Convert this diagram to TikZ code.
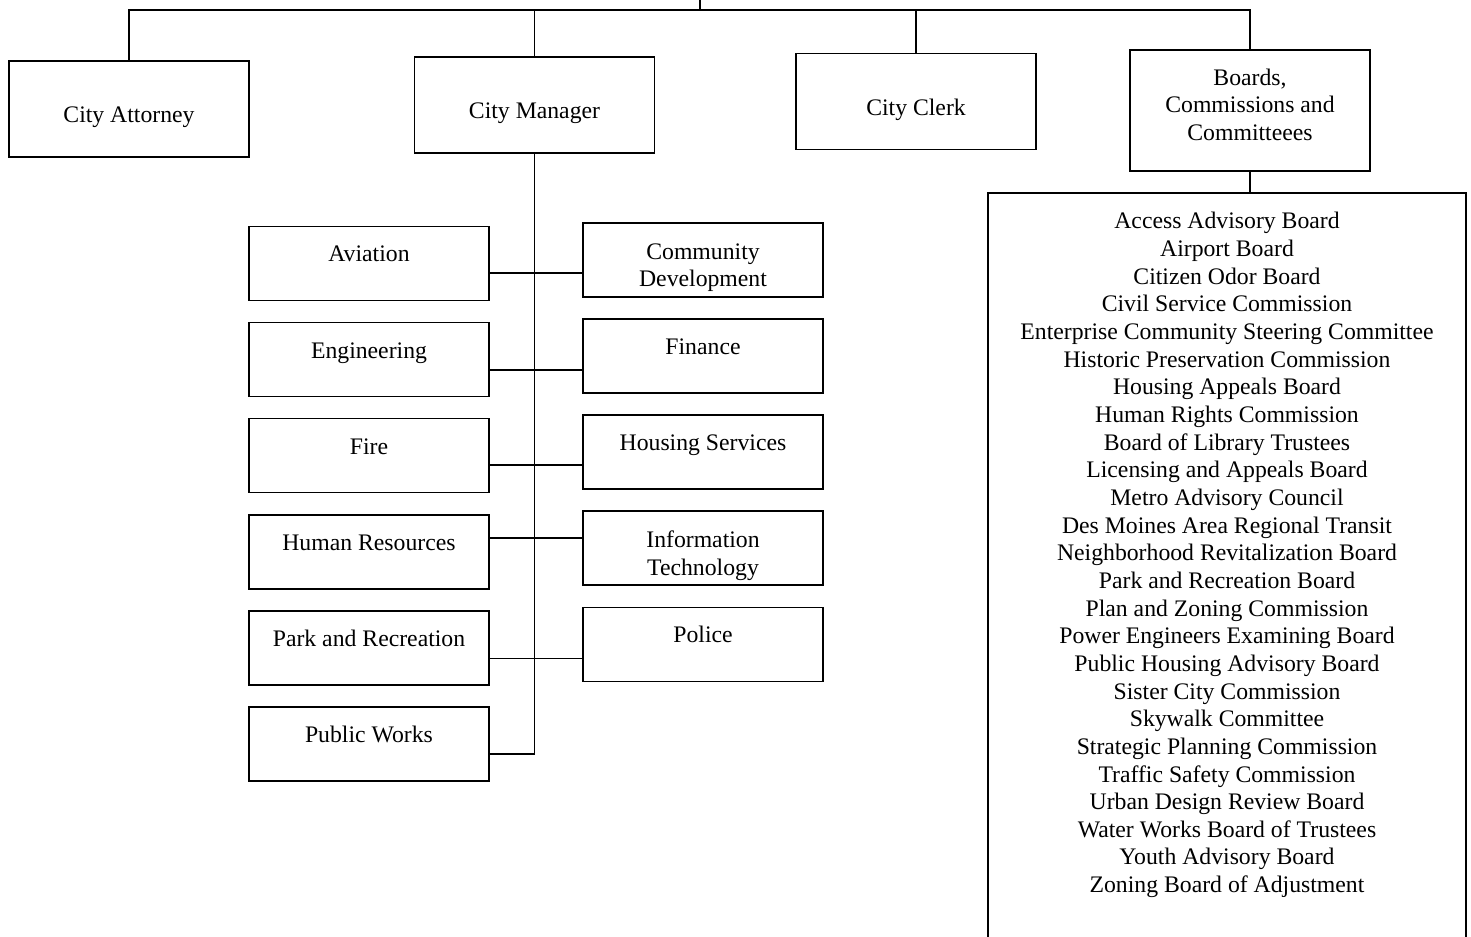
\documentclass[tikz,border=0pt]{standalone}
\usepackage{fontspec}
\setmainfont{Liberation Serif}
\usepackage{tikz}
\usetikzlibrary{positioning}
\tikzset{office/.style={draw,line width=0.9pt,minimum width=4.8cm,minimum height=1.92cm,
        align=center,inner sep=0pt,text height=0.65cm,text depth=0.1cm},
    dept/.style={draw,line width=0.9pt,minimum width=4.8cm,minimum height=1.48cm,
        align=center,inner sep=0pt},
    oneline/.style={text height=0.35cm,text depth=0.41cm},
    twoline/.style={text height=1.16cm,text depth=0.08cm},
    link/.style={draw,line width=0.9pt},
    boardlist/.style={align=center,inner sep=0pt},
    every node/.style={font=\fontsize{13.5}{15.74}\selectfont}}

\begin{document}
\begin{tikzpicture}
\useasboundingbox (0,0) rectangle (29.42,-18.74);

\node[office] (attorney) at (2.58,-2.18) {City Attorney};
\node[office] (manager) at (10.69,-2.10) {City Manager};
\node[office] (clerk) at (18.32,-2.03) {City Clerk};
\node[office,minimum height=2.42cm,text height=1.44cm,text depth=0.24cm] (boards) at (25.0,-2.21) {Boards,\\ Commissions and\\ Committeees};

\coordinate (bus) at (14.0,-0.2);
\coordinate (mayor) at (14.0,0);
\draw[link] (attorney.north) |- (bus) -| (boards.north);
\draw[link] (manager.north) -- (manager.north |- bus);
\draw[link] (clerk.north) -- (clerk.north |- bus);
\draw[link] (bus) -- (mayor);

\node[dept,oneline] (aviation) at (7.38,-5.27) {Aviation};
\node[dept,oneline] (engineering) [below=0.41cm of aviation] {Engineering};
\node[dept,oneline] (fire) [below=0.41cm of engineering] {Fire};
\node[dept,oneline] (humanres) [below=0.41cm of fire] {Human Resources};
\node[dept,oneline] (parkrec) [below=0.41cm of humanres] {Park and Recreation};
\node[dept,oneline] (works) [below=0.41cm of parkrec] {Public Works};

\node[dept,twoline] (commdev) at (14.06,-5.20) {Community\\ Development};
\node[dept,oneline] (finance) [below=0.41cm of commdev] {Finance};
\node[dept,oneline] (housing) [below=0.41cm of finance] {Housing Services};
\node[dept,twoline] (infotech) [below=0.41cm of housing] {Information\\ Technology};
\node[dept,oneline] (police) [below=0.41cm of infotech] {Police};

\draw[link] (manager.south) |- ([yshift=-0.2cm]works.east);
\draw[link] ([yshift=-0.19cm]aviation.east) -- ([yshift=-0.19cm]aviation.east -| commdev.west);
\draw[link] ([yshift=-0.21cm]engineering.east) -- ([yshift=-0.21cm]engineering.east -| finance.west);
\draw[link] ([yshift=-0.19cm]fire.east) -- ([yshift=-0.19cm]fire.east -| housing.west);
\draw[link] ([yshift=0.27cm]humanres.east) -- ([yshift=0.27cm]humanres.east -| infotech.west);
\draw[link] ([yshift=-0.21cm]parkrec.east) -- ([yshift=-0.21cm]parkrec.east -| police.west);

\coordinate (listnw) at (19.76,-3.86);
\coordinate (listse) at (29.32,-18.74);
\draw[link] (listnw |- listse) -- (listnw) -- (listse |- listnw) -- (listse);
\draw[link] (boards.south) -- (boards.south |- listnw);

\node[boardlist,anchor=north] (boardnames) at (24.54,-4.24) {Access Advisory Board\\
    Airport Board\\
    Citizen Odor Board\\
    Civil Service Commission\\
    Enterprise Community Steering Committee\\
    Historic Preservation Commission\\
    Housing Appeals Board\\
    Human Rights Commission\\
    Board of Library Trustees\\
    Licensing and Appeals Board\\
    Metro Advisory Council\\
    Des Moines Area Regional Transit\\
    Neighborhood Revitalization Board\\
    Park and Recreation Board\\
    Plan and Zoning Commission\\
    Power Engineers Examining Board\\
    Public Housing Advisory Board\\
    Sister City Commission\\
    Skywalk Committee\\
    Strategic Planning Commission\\
    Traffic Safety Commission\\
    Urban Design Review Board\\
    Water Works Board of Trustees\\
    Youth Advisory Board\\
    Zoning Board of Adjustment};
\end{tikzpicture}
\end{document}
